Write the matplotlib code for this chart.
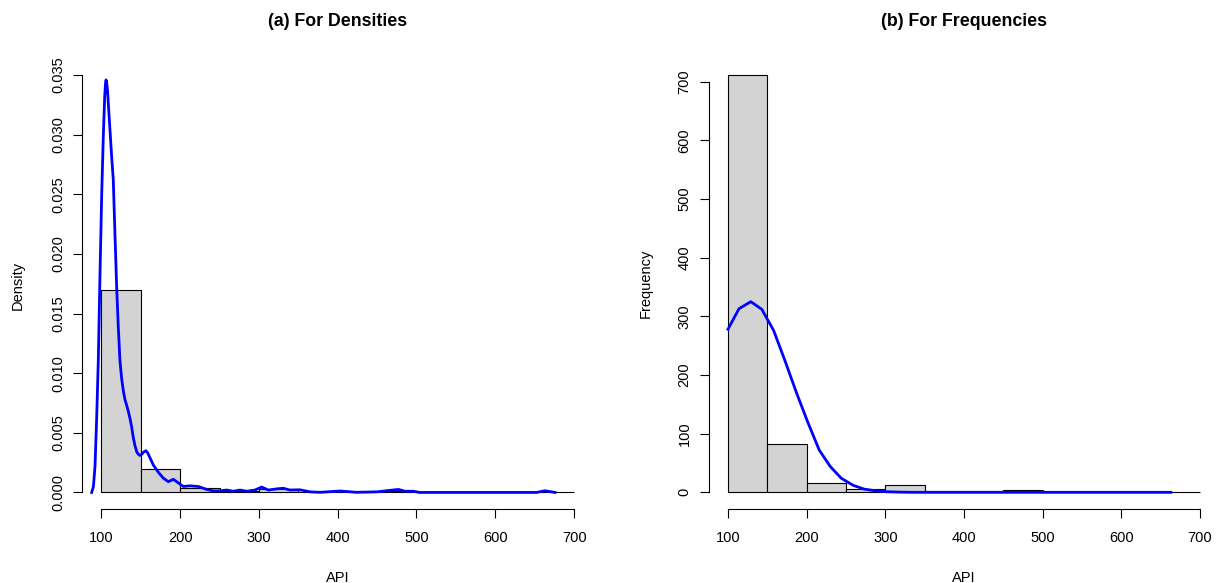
# -*- coding: utf-8 -*-
"""Гистограммы API: (a) плотность + ядерная оценка, (b) частоты + нормальная кривая."""
import numpy as np
import matplotlib
matplotlib.use("Agg")
import matplotlib.pyplot as plt

plt.rcParams["font.family"] = ["Liberation Sans", "DejaVu Sans"]

# %% Данные
bin_edges = [100, 150, 200, 250, 300, 350, 400, 450, 500, 550, 600, 650, 700]
counts = [711, 83, 16, 6, 12, 3, 2, 4, 0, 0, 0, 1]

# ядерная оценка плотности (панель a)
kde_x = [87.8, 90, 92, 94, 96.2, 98.4, 100.5, 102.5, 104.3, 105.3, 106, 106.8,
         108, 109, 111, 113, 115.2, 117.4, 119.5, 121.6, 123.7, 125.9, 128, 130,
         132.2, 134.3, 136.4, 138.5, 140.6, 142.8, 145, 147, 149, 151.3, 154,
         156.7, 159, 161.8, 166, 172.3, 178.7, 185, 191.4, 197.7, 204, 212.6,
         223, 233.8, 242, 250.6, 259, 267.5, 276, 284.5, 295, 303.5, 312, 322.6,
         331, 339.5, 352, 364.8, 377.5, 403, 424, 449.5, 477, 485.4, 496, 504,
         542.5, 652.5, 663, 675.8]
kde_y = [0.0, 0.0005, 0.0022, 0.0060, 0.0111, 0.0185, 0.0250, 0.0298, 0.0332,
         0.0343, 0.0346, 0.0344, 0.0336, 0.0325, 0.0304, 0.0283, 0.0262, 0.0215,
         0.0172, 0.0138, 0.0110, 0.0095, 0.0085, 0.0078, 0.0073, 0.0068, 0.0062,
         0.0055, 0.0046, 0.0039, 0.0034, 0.0032, 0.0031, 0.0032, 0.0034, 0.0035,
         0.0033, 0.0029, 0.0023, 0.0017, 0.0012, 0.0009, 0.0011, 0.0008, 0.0005,
         0.00055, 0.0005, 0.00025, 0.00013, 0.00013, 0.0002, 0.0001, 0.0002,
         0.0001, 0.0002, 0.00045, 0.0002, 0.0003, 0.00035, 0.0002, 0.00022,
         0.00005, 0.00001, 0.00012, 0.00001, 0.00005, 0.00025, 0.0001, 0.0001,
         0.0, 0.0, 0.0, 0.00014, 0.0]

# нормальная кривая в масштабе частот (панель b)
norm_x = [100, 114, 129, 143, 158, 172, 187, 201, 216, 230, 244, 259, 273, 288,
          302, 317, 331, 346, 360, 374, 389, 403, 418, 432, 447, 461, 475, 490,
          504, 519, 533, 548, 562, 577, 591, 605, 620, 634, 649, 663]
norm_y = [278, 313, 325, 312, 276, 226, 170, 121, 72, 44, 24, 12, 5.5, 2.5,
          1, 0.4, 0.1, 0, 0, 0, 0, 0, 0, 0, 0, 0, 0, 0,
          0, 0, 0, 0, 0, 0, 0, 0, 0, 0, 0, 0]

edges = np.array(bin_edges, dtype=float)
cnt = np.array(counts, dtype=float)
width = np.diff(edges)
dens = cnt / (cnt.sum() * width)

W, H = 1219, 583
fig = plt.figure(figsize=(W / 100, H / 100), dpi=100)


def style_axes(ax, ybound):
    for s in ("top", "right"):
        ax.spines[s].set_visible(False)
    ax.spines["left"].set_bounds(*ybound)
    ax.spines["bottom"].set_bounds(100, 700)
    for s in ("left", "bottom"):
        ax.spines[s].set_linewidth(0.8)
    ax.tick_params(direction="out", length=6.5, width=0.8, labelsize=10.5)
    ax.tick_params(axis="x", pad=9)
    ax.tick_params(axis="y", pad=6)
    ax.set_xticks(range(100, 701, 100))
    ax.set_xlim(76, 724)
    for lab in ax.get_yticklabels():
        lab.set_rotation(90)
        lab.set_va("center")


# %% (a) плотности
ax1 = fig.add_axes([82.4 / W, 1 - 509 / H, (593 - 82.4) / W, (509 - 62) / H])
ax1.bar(edges[:-1], dens, width=width, align="edge", color="#D3D3D3",
        edgecolor="black", linewidth=0.8)
ax1.plot(kde_x, kde_y, color="blue", lw=2)
ax1.set_ylim(-0.00139, 0.0361)
ax1.set_yticks(np.arange(0, 0.0351, 0.005))
ax1.set_yticklabels([f"{v:.3f}" for v in np.arange(0, 0.0351, 0.005)])
style_axes(ax1, (0, 0.035))
ax1.set_xlabel("API", fontsize=10.5)
ax1.xaxis.set_label_coords(0.5, -0.139)
ax1.set_ylabel("Density", fontsize=10.5)
ax1.yaxis.set_label_coords(-0.112, 0.5)

# %% (b) частоты
ax2 = fig.add_axes([709.1 / W, 1 - 509 / H, (1218.9 - 709.1) / W, (509 - 58.6) / H])
ax2.bar(edges[:-1], cnt, width=width, align="edge", color="#D3D3D3",
        edgecolor="black", linewidth=0.8)
ax2.plot(norm_x, norm_y, color="blue", lw=2)
ax2.set_ylim(-28.44, 739.44)
ax2.set_yticks(range(0, 701, 100))
style_axes(ax2, (0, 700))
ax2.set_xlabel("API", fontsize=10.5)
ax2.xaxis.set_label_coords(0.5, -0.138)
ax2.set_ylabel("Frequency", fontsize=10.5)
ax2.yaxis.set_label_coords(-0.111, 0.5)

fig.text(337.7 / W, 1 - 22 / H, "(a) For Densities", ha="center", va="center",
         fontsize=12.8, fontweight="bold")
fig.text(964 / W, 1 - 22 / H, "(b) For Frequencies", ha="center", va="center",
         fontsize=12.8, fontweight="bold")

fig.savefig("out.png", dpi=100)
